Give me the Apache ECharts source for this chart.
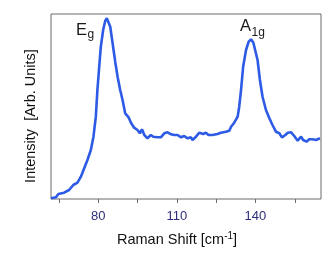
<!DOCTYPE html>
<html>
<head>
<meta charset="utf-8">
<script src="https://cdn.jsdelivr.net/npm/echarts@6/dist/echarts.min.js"></script>
<style>
html,body{margin:0;padding:0;background:#fff;}
#c{width:332px;height:257px;}
</style>
</head>
<body>
<div id="c"></div>
<script>
// Raman shift (cm^-1)
const ramanShift = [62.0,63.9,64.8,67.0,68.9,70.5,72.1,73.4,74.7,75.9,77.2,78.2,79.1,79.7,80.4,81.0,81.9,82.7,83.3,83.9,84.6,85.5,86.5,87.4,88.4,89.3,90.3,91.6,92.5,93.7,94.4,95.0,95.9,96.7,97.6,98.8,100.1,101.0,102.6,103.9,105.2,106.5,107.8,109.0,110.3,111.6,112.8,114.1,115.4,116.0,117.3,118.6,119.2,120.1,121.1,122.1,123.6,125.5,126.8,128.7,130.0,130.7,131.9,133.2,133.8,134.5,135.3,136.4,137.4,138.3,139.2,139.9,140.8,141.7,142.7,144.0,145.3,146.5,147.8,149.1,150.1,151.4,152.3,153.6,154.8,156.1,157.4,158.2,159.5,160.5,161.8,163.1,164.6];
// Intensity (arb. units)
const intensity = [0.7,1.7,5,6.3,9,14,16.3,22.3,31,39,49,62.3,82.3,109,132.3,152.3,169,178.3,180.7,179.7,172.3,155.7,137.3,122.3,109,99,85.7,81.7,76.3,71.3,73,69,65.7,69.7,64,60.7,64,62.3,61.7,61.7,65.7,66.7,64.7,64,64,61.7,63,60.7,61.7,59,62.3,66.3,68.3,65,66.3,64,64,65,66.3,67.3,68.3,72.3,76.3,82.3,92.3,109,132.3,149,157.3,159.7,156.3,155.7,139,119,102.3,89,80.7,74,67.3,65.7,61.7,64,66.3,66.7,63,58.3,62.3,59,57.3,59.7,59.7,59,60.7];
// Tick positions and labelled ticks
const xTicks = [65,80,95,110,125,140,155];
const xTickLabels = [80,110,140];
// Peak annotations
const peakMain = ['E','A'];
const peakSub = ['g','1g'];

const chart = echarts.init(document.getElementById('c'), null, {renderer:'canvas'});
const font = 'Liberation Sans, Arial, sans-serif';

chart.setOption({
  animation:false,
  backgroundColor:'#fff',
  grid:{left:51,right:11,top:14,bottom:58,show:true,borderColor:'#6a6a6a',borderWidth:1,backgroundColor:'transparent'},
  xAxis:{
    type:'value',min:62,max:165,
    axisLine:{show:false},
    splitLine:{show:false},
    axisTick:{show:true,inside:false,length:4,lineStyle:{color:'#6a6a6a',width:1},customValues:xTicks},
    axisLabel:{show:true,customValues:xTickLabels,color:'#2e2e7a',fontSize:13,fontFamily:font,margin:11},
    name:'Raman Shift [cm{sup|-1}]',
    nameLocation:'middle',nameGap:32,
    nameTextStyle:{color:'#111',fontSize:14.5,fontFamily:font,padding:[0,18,0,0],
      rich:{sup:{fontSize:10,fontFamily:font,color:'#111',verticalAlign:'top',padding:[0,0,8,0]}}}
  },
  yAxis:{
    type:'value',min:0,max:185,
    axisLine:{show:false},axisTick:{show:false},axisLabel:{show:false},splitLine:{show:false},
    name:'Intensity  [Arb. Units]',
    nameLocation:'middle',nameGap:13,nameRotate:90,
    nameTextStyle:{color:'#111',fontSize:14.5,fontFamily:font,padding:[0,19,0,0]}
  },
  series:[{
    type:'line',
    data:ramanShift.map((x,i)=>[x,intensity[i]]),
    showSymbol:false,
    lineStyle:{color:'#2d5be6',width:2.6},
    clip:false
  }]
});

// Place peak labels via the chart's own coordinate conversion
const anchors = [
  {main:[71.5,168.2], sub:[75.9,164.6]},
  {main:[134.1,172.7], sub:[138.5,166.7]}
];
const graphics = [];
anchors.forEach((a,i)=>{
  const pm = chart.convertToPixel({gridIndex:0}, a.main);
  const ps = chart.convertToPixel({gridIndex:0}, a.sub);
  graphics.push({type:'text',x:pm[0],y:pm[1],style:{text:peakMain[i],fill:'#1a1a1a',font:'16.5px '+font,textAlign:'left',textVerticalAlign:'middle'}});
  graphics.push({type:'text',x:ps[0],y:ps[1],style:{text:peakSub[i],fill:'#1a1a1a',font:'12px '+font,textAlign:'left',textVerticalAlign:'middle'}});
});
chart.setOption({graphic:graphics});
</script>
</body>
</html>
